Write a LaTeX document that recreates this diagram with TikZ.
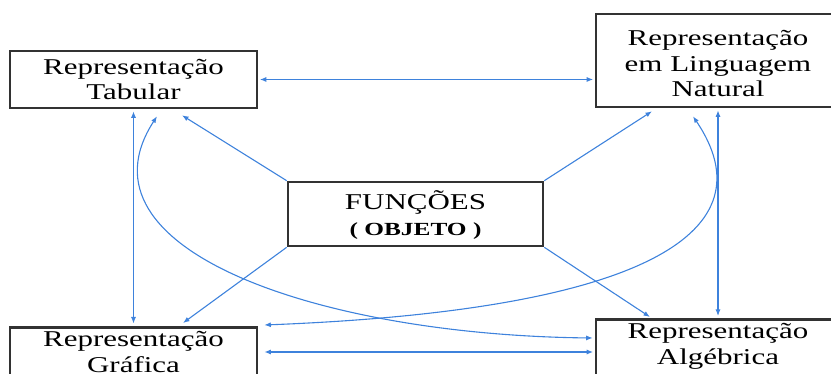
\documentclass[tikz,border=0pt]{standalone}
\usepackage{fontspec}
\setmainfont{Liberation Serif}[FakeStretch=1.37]
\usetikzlibrary{arrows.meta,calc}
\definecolor{linkblue}{RGB}{62,130,220}
\definecolor{boxline}{RGB}{50,50,50}
\tikzset{
  repbox/.style={draw=boxline, line width=2.6pt, fill=white, align=center,
    inner sep=0pt, font=\fontsize{22.6}{25.5}\selectfont},
  link/.style={draw=linkblue, line width=1.1pt,
    {Latex[length=6.5pt,width=5pt]}-{Latex[length=6.5pt,width=5pt]}},
  onelink/.style={draw=linkblue, line width=1.1pt, -{Latex[length=6.5pt,width=5pt]}},
}
\begin{document}
\begin{tikzpicture}[x=1pt, y=-1pt]
  \useasboundingbox (0,0) rectangle (831,374);
  \clip (0,0) rectangle (831,374);

  % the five boxes
  \node[repbox, minimum width=247pt, minimum height=57pt] (tab) at (133.5,79.5)
    {Representação\\Tabular};
  \node[repbox, minimum width=244pt, minimum height=93pt] (nat) at (718,60.5)
    {\rule{0pt}{22pt}Representação\\em Linguagem\\Natural};
  \node[repbox, minimum width=255pt, minimum height=64pt] (fun) at (415.5,214)
    {\rule{0pt}{21pt}FUNÇÕES\\{\bfseries\fontsize{18.5}{25.5}\selectfont ( OBJETO )}};
  \node[repbox, anchor=north, minimum width=247pt, inner ysep=4pt, text depth=40pt]
    (gra) at (133.5,326) {Representação\\Gráfica};
  \node[repbox, anchor=north, minimum width=244pt, inner ysep=4pt, text depth=40pt]
    (alg) at (718,318) {Representação\\Algébrica};

  % two-way links between the representations
  \draw[link, shorten <=1.5pt, shorten >=1.5pt] (tab.east) -- (tab.east -| nat.west);
  \draw[link, shorten <=2pt, shorten >=2.5pt] (tab.south) -- (gra.north);
  \draw[link, shorten <=2pt, shorten >=2pt] (nat.south) -- (alg.north);
  \draw[link, shorten >=1.5pt] ($(gra.north east)+(6,26)$) -- ($(alg.north west)+(0,34)$);

  % from the object to each representation
  \draw[onelink] (fun.north west) -- ($(tab.south)+(48.5,6)$);
  \draw[onelink] (fun.north east) -- ($(nat.south)+(-66,3)$);
  \draw[onelink] (fun.south west) -- ($(gra.north)+(49.5,-3)$);
  \draw[onelink] (fun.south east) -- ($(alg.north)+(-68,-1)$);

  % crossing curved links
  \draw[link] ($(tab.south)+(23.5,7)$) .. controls (70,250) and (320,335) ..
    ($(alg.north west)+(-2,20)$);
  \draw[link] ($(nat.south)+(-25,8)$) .. controls (770,230) and (650,310) ..
    ($(gra.north east)+(6,-1)$);
\end{tikzpicture}
\end{document}
